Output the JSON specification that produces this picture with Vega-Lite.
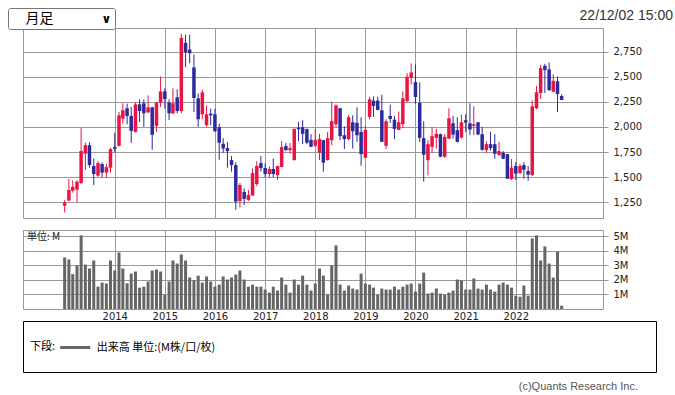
{
  "$schema": "https://vega.github.io/schema/vega-lite/v6.json",
  "padding": {"left": 7, "top": 7, "right": 0, "bottom": 0},
  "background": "white",
  "config": {
    "view": {"stroke": "#999999", "strokeWidth": 1},
    "font": "DejaVu Sans",
    "axis": {"labelFont": "DejaVu Sans", "labelFontSize": 10, "labelColor": "#222222", "gridColor": "#999999", "gridOpacity": 1, "gridWidth": 1, "tickColor": "#999999", "tickWidth": 1, "domain": false, "title": null}
  },
  "datasets": {
    "candles": [
      {"d":"2013-01-01","o":1217,"h":1273,"l":1150,"c":1247,"v":3.55},
      {"d":"2013-02-01","o":1268,"h":1483,"l":1262,"c":1374,"v":3.41},
      {"d":"2013-03-01","o":1367,"h":1470,"l":1347,"c":1404,"v":2.40},
      {"d":"2013-04-01","o":1377,"h":1470,"l":1250,"c":1456,"v":3.00},
      {"d":"2013-05-01","o":1443,"h":1988,"l":1433,"c":1760,"v":5.07},
      {"d":"2013-06-01","o":1734,"h":1843,"l":1572,"c":1819,"v":3.06},
      {"d":"2013-07-01","o":1819,"h":1849,"l":1595,"c":1621,"v":2.79},
      {"d":"2013-08-01","o":1612,"h":1687,"l":1423,"c":1532,"v":3.34},
      {"d":"2013-09-01","o":1516,"h":1661,"l":1506,"c":1641,"v":1.54},
      {"d":"2013-10-01","o":1631,"h":1648,"l":1500,"c":1546,"v":1.82},
      {"d":"2013-11-01","o":1546,"h":1635,"l":1493,"c":1601,"v":1.75},
      {"d":"2013-12-01","o":1595,"h":1790,"l":1546,"c":1780,"v":3.34},
      {"d":"2014-01-01","o":1800,"h":1941,"l":1747,"c":1783,"v":2.65},
      {"d":"2014-02-01","o":1813,"h":2149,"l":1805,"c":2116,"v":3.89},
      {"d":"2014-03-01","o":2083,"h":2235,"l":2034,"c":2166,"v":2.79},
      {"d":"2014-04-01","o":2186,"h":2232,"l":2027,"c":2110,"v":1.77},
      {"d":"2014-05-01","o":2110,"h":2199,"l":1842,"c":1961,"v":2.44},
      {"d":"2014-06-01","o":1951,"h":2242,"l":1945,"c":2225,"v":2.58},
      {"d":"2014-07-01","o":2225,"h":2275,"l":2050,"c":2159,"v":1.47},
      {"d":"2014-08-01","o":2235,"h":2275,"l":2001,"c":2136,"v":1.54},
      {"d":"2014-09-01","o":2146,"h":2314,"l":2136,"c":2195,"v":1.89},
      {"d":"2014-10-01","o":2195,"h":2202,"l":1773,"c":1922,"v":2.65},
      {"d":"2014-11-01","o":2011,"h":2245,"l":1951,"c":2242,"v":2.72},
      {"d":"2014-12-01","o":2242,"h":2502,"l":2199,"c":2354,"v":2.58},
      {"d":"2015-01-01","o":2354,"h":2384,"l":2182,"c":2278,"v":0.99},
      {"d":"2015-02-01","o":2242,"h":2275,"l":2070,"c":2136,"v":1.89},
      {"d":"2015-03-01","o":2136,"h":2384,"l":2127,"c":2235,"v":3.34},
      {"d":"2015-04-01","o":2295,"h":2374,"l":2136,"c":2159,"v":3.13},
      {"d":"2015-05-01","o":2159,"h":2928,"l":2136,"c":2885,"v":3.76},
      {"d":"2015-06-01","o":2836,"h":2918,"l":2595,"c":2743,"v":3.34},
      {"d":"2015-07-01","o":2770,"h":2918,"l":2634,"c":2733,"v":2.17},
      {"d":"2015-08-01","o":2592,"h":2720,"l":2149,"c":2288,"v":1.98},
      {"d":"2015-09-01","o":2285,"h":2334,"l":2001,"c":2077,"v":2.30},
      {"d":"2015-10-01","o":2126,"h":2370,"l":2077,"c":2344,"v":1.82},
      {"d":"2015-11-01","o":2017,"h":2215,"l":2001,"c":2126,"v":2.24},
      {"d":"2015-12-01","o":2133,"h":2182,"l":2017,"c":2116,"v":1.89},
      {"d":"2016-01-01","o":2126,"h":2182,"l":1950,"c":1958,"v":1.54},
      {"d":"2016-02-01","o":1998,"h":2034,"l":1674,"c":1843,"v":1.68},
      {"d":"2016-03-01","o":1833,"h":1889,"l":1743,"c":1786,"v":2.24},
      {"d":"2016-04-01","o":1790,"h":1852,"l":1595,"c":1760,"v":2.03},
      {"d":"2016-05-01","o":1671,"h":1711,"l":1555,"c":1621,"v":2.17},
      {"d":"2016-06-01","o":1621,"h":1650,"l":1176,"c":1258,"v":2.37},
      {"d":"2016-07-01","o":1265,"h":1443,"l":1199,"c":1423,"v":2.65},
      {"d":"2016-08-01","o":1354,"h":1390,"l":1225,"c":1285,"v":2.03},
      {"d":"2016-09-01","o":1275,"h":1374,"l":1265,"c":1324,"v":1.54},
      {"d":"2016-10-01","o":1318,"h":1588,"l":1318,"c":1542,"v":1.68},
      {"d":"2016-11-01","o":1433,"h":1661,"l":1413,"c":1612,"v":1.54},
      {"d":"2016-12-01","o":1641,"h":1711,"l":1555,"c":1592,"v":1.54},
      {"d":"2017-01-01","o":1592,"h":1638,"l":1500,"c":1532,"v":1.34},
      {"d":"2017-02-01","o":1532,"h":1608,"l":1500,"c":1582,"v":1.13},
      {"d":"2017-03-01","o":1582,"h":1687,"l":1500,"c":1532,"v":1.54},
      {"d":"2017-04-01","o":1522,"h":1615,"l":1473,"c":1612,"v":1.27},
      {"d":"2017-05-01","o":1602,"h":1859,"l":1600,"c":1800,"v":2.17},
      {"d":"2017-06-01","o":1810,"h":1840,"l":1760,"c":1770,"v":1.68},
      {"d":"2017-07-01","o":1770,"h":1840,"l":1734,"c":1790,"v":1.13},
      {"d":"2017-08-01","o":1671,"h":1985,"l":1665,"c":1981,"v":2.03},
      {"d":"2017-09-01","o":1991,"h":2050,"l":1859,"c":1978,"v":1.68},
      {"d":"2017-10-01","o":1998,"h":2067,"l":1829,"c":1932,"v":2.30},
      {"d":"2017-11-01","o":1978,"h":1985,"l":1829,"c":1843,"v":1.68},
      {"d":"2017-12-01","o":1872,"h":1928,"l":1800,"c":1803,"v":1.27},
      {"d":"2018-01-01","o":1813,"h":1981,"l":1800,"c":1872,"v":1.75},
      {"d":"2018-02-01","o":1744,"h":1932,"l":1671,"c":1882,"v":2.79},
      {"d":"2018-03-01","o":1869,"h":1872,"l":1555,"c":1645,"v":2.30},
      {"d":"2018-04-01","o":1671,"h":1951,"l":1665,"c":1889,"v":0.99},
      {"d":"2018-05-01","o":1869,"h":2252,"l":1819,"c":2057,"v":3.00},
      {"d":"2018-06-01","o":2027,"h":2225,"l":2001,"c":2215,"v":4.38},
      {"d":"2018-07-01","o":2186,"h":2190,"l":1869,"c":1909,"v":1.68},
      {"d":"2018-08-01","o":1918,"h":2007,"l":1780,"c":1879,"v":1.27},
      {"d":"2018-09-01","o":1879,"h":2120,"l":1869,"c":2097,"v":1.61},
      {"d":"2018-10-01","o":2047,"h":2116,"l":1786,"c":1958,"v":1.41},
      {"d":"2018-11-01","o":2041,"h":2196,"l":1852,"c":1918,"v":1.34},
      {"d":"2018-12-01","o":1951,"h":2097,"l":1615,"c":1730,"v":2.44},
      {"d":"2019-01-01","o":1694,"h":2014,"l":1690,"c":1971,"v":1.75},
      {"d":"2019-02-01","o":2100,"h":2301,"l":2077,"c":2275,"v":1.68},
      {"d":"2019-03-01","o":2262,"h":2305,"l":2100,"c":2209,"v":1.47},
      {"d":"2019-04-01","o":2262,"h":2301,"l":2166,"c":2169,"v":0.99},
      {"d":"2019-05-01","o":2166,"h":2321,"l":1852,"c":1852,"v":1.41},
      {"d":"2019-06-01","o":1813,"h":2077,"l":1780,"c":2057,"v":1.34},
      {"d":"2019-07-01","o":2110,"h":2222,"l":2040,"c":2080,"v":1.34},
      {"d":"2019-08-01","o":2073,"h":2110,"l":1879,"c":1981,"v":1.54},
      {"d":"2019-09-01","o":1971,"h":2153,"l":1968,"c":2047,"v":1.34},
      {"d":"2019-10-01","o":2027,"h":2354,"l":1988,"c":2285,"v":1.54},
      {"d":"2019-11-01","o":2258,"h":2536,"l":2242,"c":2500,"v":1.68},
      {"d":"2019-12-01","o":2489,"h":2631,"l":2423,"c":2542,"v":1.75},
      {"d":"2020-01-01","o":2446,"h":2621,"l":2230,"c":2298,"v":1.20},
      {"d":"2020-02-01","o":2238,"h":2443,"l":1852,"c":1892,"v":1.75},
      {"d":"2020-03-01","o":1889,"h":2057,"l":1456,"c":1724,"v":2.51},
      {"d":"2020-04-01","o":1670,"h":1869,"l":1519,"c":1829,"v":1.06},
      {"d":"2020-05-01","o":1803,"h":1998,"l":1743,"c":1909,"v":1.13},
      {"d":"2020-06-01","o":1892,"h":1981,"l":1786,"c":1932,"v":1.41},
      {"d":"2020-07-01","o":1928,"h":1935,"l":1700,"c":1704,"v":1.06},
      {"d":"2020-08-01","o":1704,"h":1928,"l":1691,"c":1902,"v":0.99},
      {"d":"2020-09-01","o":1885,"h":2186,"l":1879,"c":2087,"v":1.13},
      {"d":"2020-10-01","o":2037,"h":2110,"l":1885,"c":1925,"v":1.27},
      {"d":"2020-11-01","o":1968,"h":2097,"l":1846,"c":1852,"v":2.03},
      {"d":"2020-12-01","o":1895,"h":2123,"l":1885,"c":2047,"v":1.96},
      {"d":"2021-01-01","o":2067,"h":2126,"l":1951,"c":2044,"v":1.34},
      {"d":"2021-02-01","o":2037,"h":2235,"l":1918,"c":1975,"v":1.34},
      {"d":"2021-03-01","o":2011,"h":2205,"l":1918,"c":2027,"v":2.10},
      {"d":"2021-04-01","o":2047,"h":2050,"l":1918,"c":1925,"v":1.41},
      {"d":"2021-05-01","o":1928,"h":2001,"l":1763,"c":1773,"v":1.34},
      {"d":"2021-06-01","o":1770,"h":1859,"l":1743,"c":1829,"v":1.68},
      {"d":"2021-07-01","o":1829,"h":1951,"l":1763,"c":1790,"v":1.34},
      {"d":"2021-08-01","o":1829,"h":1928,"l":1684,"c":1734,"v":1.20},
      {"d":"2021-09-01","o":1720,"h":1852,"l":1718,"c":1760,"v":1.68},
      {"d":"2021-10-01","o":1744,"h":1760,"l":1680,"c":1684,"v":1.82},
      {"d":"2021-11-01","o":1730,"h":1733,"l":1483,"c":1486,"v":1.68},
      {"d":"2021-12-01","o":1483,"h":1681,"l":1473,"c":1595,"v":1.47},
      {"d":"2022-01-01","o":1612,"h":1651,"l":1473,"c":1536,"v":0.92},
      {"d":"2022-02-01","o":1542,"h":1635,"l":1532,"c":1612,"v":0.85},
      {"d":"2022-03-01","o":1621,"h":1651,"l":1486,"c":1575,"v":1.61},
      {"d":"2022-04-01","o":1562,"h":1612,"l":1466,"c":1526,"v":0.92},
      {"d":"2022-05-01","o":1522,"h":2265,"l":1513,"c":2205,"v":4.86},
      {"d":"2022-06-01","o":2186,"h":2407,"l":2176,"c":2344,"v":5.07},
      {"d":"2022-07-01","o":2337,"h":2615,"l":2278,"c":2585,"v":3.34},
      {"d":"2022-08-01","o":2608,"h":2628,"l":2337,"c":2565,"v":4.31},
      {"d":"2022-09-01","o":2572,"h":2641,"l":2357,"c":2367,"v":3.13},
      {"d":"2022-10-01","o":2351,"h":2525,"l":2344,"c":2459,"v":2.17},
      {"d":"2022-11-01","o":2453,"h":2502,"l":2149,"c":2328,"v":3.96},
      {"d":"2022-12-01","o":2308,"h":2324,"l":2268,"c":2268,"v":0.23}
    ]
  },
  "resolve": {"scale": {"color": "independent", "shape": "independent"}, "legend": {"color": "independent", "shape": "independent"}},
  "spacing": 12,
  "bounds": "flush",
  "vconcat": [
    {
      "width": 580,
      "height": 190,
      "title": {"text": "22/12/02 15:00", "anchor": "end", "frame": "group", "orient": "top", "dx": 70, "offset": -5.5, "baseline": "alphabetic", "font": "Liberation Sans", "fontSize": 14, "fontWeight": "normal", "color": "#333333"},
      "data": {"name": "candles"},
      "layer": [
        {
          "mark": {"type": "rule", "strokeWidth": 1},
          "encoding": {
            "x": {"field": "d", "type": "temporal",
              "scale": {"type": "utc", "domain": [{"year": 2012, "month": 4, "date": 9, "utc": true}, {"year": 2023, "month": 8, "date": 23, "utc": true}]},
              "axis": {"values": [{"year": 2014, "utc": true}, {"year": 2015, "utc": true}, {"year": 2016, "utc": true}, {"year": 2017, "utc": true}, {"year": 2018, "utc": true}, {"year": 2019, "utc": true}, {"year": 2020, "utc": true}, {"year": 2021, "utc": true}, {"year": 2022, "utc": true}], "labels": false, "ticks": false, "grid": true, "domain": false}},
            "y": {"field": "l", "type": "quantitative",
              "scale": {"domain": [1095, 2984], "nice": false, "zero": false},
              "axis": {"orient": "right", "values": [1250, 1500, 1750, 2000, 2250, 2500, 2750], "format": ",.0f", "tickSize": 5, "labelPadding": 5, "grid": true}},
            "y2": {"field": "h"},
            "color": {"condition": {"test": "datum.c >= datum.o", "value": "#ea1443"}, "value": "#2c2a9c"}
          }
        },
        {
          "mark": {"type": "bar", "size": 3.5},
          "encoding": {
            "x": {"field": "d", "type": "temporal",
              "scale": {"type": "utc", "domain": [{"year": 2012, "month": 4, "date": 9, "utc": true}, {"year": 2023, "month": 8, "date": 23, "utc": true}]},
              "axis": {"values": [{"year": 2014, "utc": true}, {"year": 2015, "utc": true}, {"year": 2016, "utc": true}, {"year": 2017, "utc": true}, {"year": 2018, "utc": true}, {"year": 2019, "utc": true}, {"year": 2020, "utc": true}, {"year": 2021, "utc": true}, {"year": 2022, "utc": true}], "labels": false, "ticks": false, "grid": true, "domain": false}},
            "y": {"field": "o", "type": "quantitative",
              "scale": {"domain": [1095, 2984], "nice": false, "zero": false},
              "axis": {"orient": "right", "values": [1250, 1500, 1750, 2000, 2250, 2500, 2750], "format": ",.0f", "tickSize": 5, "labelPadding": 5, "grid": true}},
            "y2": {"field": "c"},
            "color": {"condition": {"test": "datum.c >= datum.o", "value": "#ea1443"}, "value": "#2c2a9c"}
          }
        }
      ]
    },
    {
      "width": 580,
      "height": 79,
      "title": {"text": "単位: M", "anchor": "start", "frame": "group", "orient": "top", "offset": -11.5, "baseline": "top", "dx": 4, "font": "Noto Sans CJK JP", "fontSize": 10, "fontWeight": "normal", "color": "#222222"},
      "data": {"name": "candles"},
      "mark": {"type": "bar", "size": 3, "color": "#666666"},
      "encoding": {
        "x": {"field": "d", "type": "temporal",
          "scale": {"type": "utc", "domain": [{"year": 2012, "month": 4, "date": 9, "utc": true}, {"year": 2023, "month": 8, "date": 23, "utc": true}]},
          "axis": {"values": [{"year": 2014, "utc": true}, {"year": 2015, "utc": true}, {"year": 2016, "utc": true}, {"year": 2017, "utc": true}, {"year": 2018, "utc": true}, {"year": 2019, "utc": true}, {"year": 2020, "utc": true}, {"year": 2021, "utc": true}, {"year": 2022, "utc": true}], "format": "%Y", "ticks": false, "labelPadding": 2.5, "grid": true, "domain": false}},
        "y": {"field": "v", "type": "quantitative",
          "scale": {"domain": [0, 5.44], "nice": false},
          "axis": {"orient": "right", "values": [1, 2, 3, 4, 5], "labelExpr": "datum.value + 'M'", "tickSize": 5, "labelPadding": 5, "grid": true}}
      }
    },
    {
      "width": 633,
      "height": 51,
      "view": {"stroke": "#000000", "strokeWidth": 1},
      "title": {"text": "(c)Quants Research Inc.", "orient": "bottom", "anchor": "end", "frame": "group", "dx": -18, "offset": 9, "font": "Liberation Sans", "fontSize": 11, "fontWeight": "normal", "color": "#555555"},
      "layer": [
        {
          "data": {"values": [{"s": "出来高 単位:(M株/口/枚)"}]},
          "mark": {"type": "line"},
          "encoding": {
            "color": {"field": "s", "type": "nominal", "scale": {"range": ["#666666"]},
              "legend": {"orient": "none", "legendX": 7, "legendY": 20, "title": "下段:", "titleOrient": "left", "titlePadding": 12.7, "titleFont": "Noto Sans CJK JP", "titleFontSize": 11, "titleFontWeight": "normal", "titleColor": "#000000", "symbolType": "M-3,0H3", "symbolSize": 100, "symbolStrokeWidth": 3, "symbolOpacity": 1, "labelOffset": 15, "labelFont": "Noto Sans CJK JP", "labelFontSize": 11, "labelColor": "#000000", "labelLimit": 400}}
          }
        },
        {
          "data": {"values": [{"k": "月足"}]},
          "mark": {"type": "point", "opacity": 0},
          "encoding": {
            "shape": {"field": "k", "type": "nominal", "scale": {"domain": ["月足"], "range": ["circle"]},
              "legend": {"orient": "none", "legendX": -15, "legendY": -313, "title": "∨", "titleOrient": "right", "titlePadding": 48, "titleFont": "DejaVu Sans", "titleFontSize": 12, "titleFontWeight": "bold", "titleColor": "#000000", "labelFont": "Noto Sans CJK JP", "labelFontSize": 14, "labelColor": "#000000", "labelOffset": 0, "symbolSize": 0.01, "symbolOpacity": 0, "symbolStrokeWidth": 0, "strokeColor": "#767676", "fillColor": "#ffffff", "cornerRadius": 2, "padding": 3.5}}
          }
        }
      ]
    }
  ]
}
